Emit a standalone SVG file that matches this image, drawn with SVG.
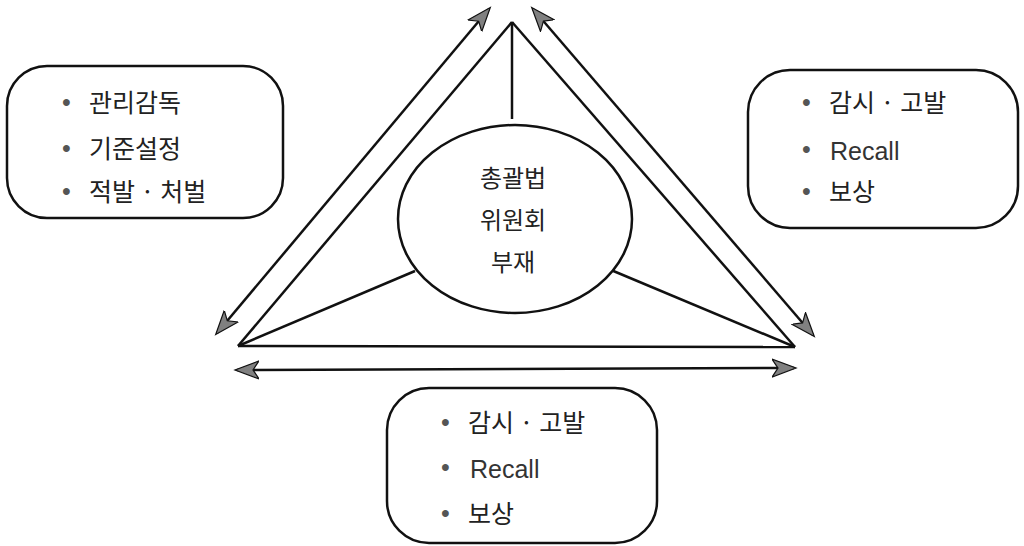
<svg xmlns="http://www.w3.org/2000/svg" width="1024" height="546" viewBox="0 0 1024 546">
<style>
.box{fill:#fff;stroke:#111;stroke-width:2.5}
.ln{stroke:#111;stroke-width:2.5;fill:none}
.ar{stroke:#111;stroke-width:2.5;fill:none;marker-start:url(#ah);marker-end:url(#ah)}
.t{font-family:"Noto Sans CJK KR","Noto Sans",sans-serif;font-size:25px;fill:#222}
.c{font-family:"Noto Sans CJK KR","Noto Sans",sans-serif;font-size:24px;fill:#222}
.r{font-family:"Liberation Sans",Arial,sans-serif;font-size:25px;fill:#333}
.b{font-family:"Liberation Sans",Arial,sans-serif;font-size:25px;fill:#555}
</style>
<defs>
<marker id="ah" markerUnits="userSpaceOnUse" markerWidth="26" markerHeight="20" refX="22" refY="9" orient="auto-start-reverse" viewBox="0 0 26 18">
<path d="M0,0 L24,9 L0,18 L6,9 z" fill="#808080" stroke="#111" stroke-width="1.2"/>
</marker>
</defs>
<rect width="1024" height="546" fill="#fff"/>
<g id="connectors">
<line class="ln" x1="512" y1="22" x2="238" y2="346"/>
<line class="ln" x1="512" y1="22" x2="795" y2="347"/>
<line class="ln" x1="238" y1="346" x2="795" y2="347"/>
<line class="ln" x1="512" y1="22" x2="512" y2="119"/>
<line class="ln" x1="238" y1="346" x2="415" y2="271"/>
<line class="ln" x1="795" y1="347" x2="611" y2="270"/>
<line class="ar" x1="217" y1="333" x2="489" y2="9"/>
<line class="ar" x1="533" y1="9" x2="813" y2="335"/>
<line class="ar" x1="237" y1="370" x2="794" y2="368"/>
</g>
<g id="center">
<ellipse cx="515" cy="219" rx="117" ry="94" fill="#fff" stroke="#111" stroke-width="2.5"/>
<text class="c" x="513" y="187" text-anchor="middle">총괄법</text>
<text class="c" x="513" y="229" text-anchor="middle">위원회</text>
<text class="c" x="513" y="271" text-anchor="middle">부재</text>
</g>
<g id="left-box">
<rect class="box" x="7" y="66" width="276" height="152" rx="40"/>
<text class="b" x="62" y="111">•</text><text class="t" x="89" y="112">관리감독</text>
<text class="b" x="62" y="157">•</text><text class="t" x="89" y="158">기준설정</text>
<text class="b" x="62" y="200">•</text><text class="t" x="89" y="201">적발 · 처벌</text>
</g>
<g id="right-box">
<rect class="box" x="748" y="70" width="270" height="158" rx="42"/>
<text class="b" x="802" y="111">•</text><text class="t" x="829" y="112">감시 · 고발</text>
<text class="b" x="802" y="158">•</text><text class="r" x="830" y="160">Recall</text>
<text class="b" x="802" y="200">•</text><text class="t" x="829" y="201">보상</text>
</g>
<g id="bottom-box">
<rect class="box" x="387" y="388" width="270" height="155" rx="42"/>
<text class="b" x="441" y="431">•</text><text class="t" x="468" y="432">감시 · 고발</text>
<text class="b" x="441" y="476">•</text><text class="r" x="470" y="478">Recall</text>
<text class="b" x="441" y="522">•</text><text class="t" x="468" y="523">보상</text>
</g>
</svg>
